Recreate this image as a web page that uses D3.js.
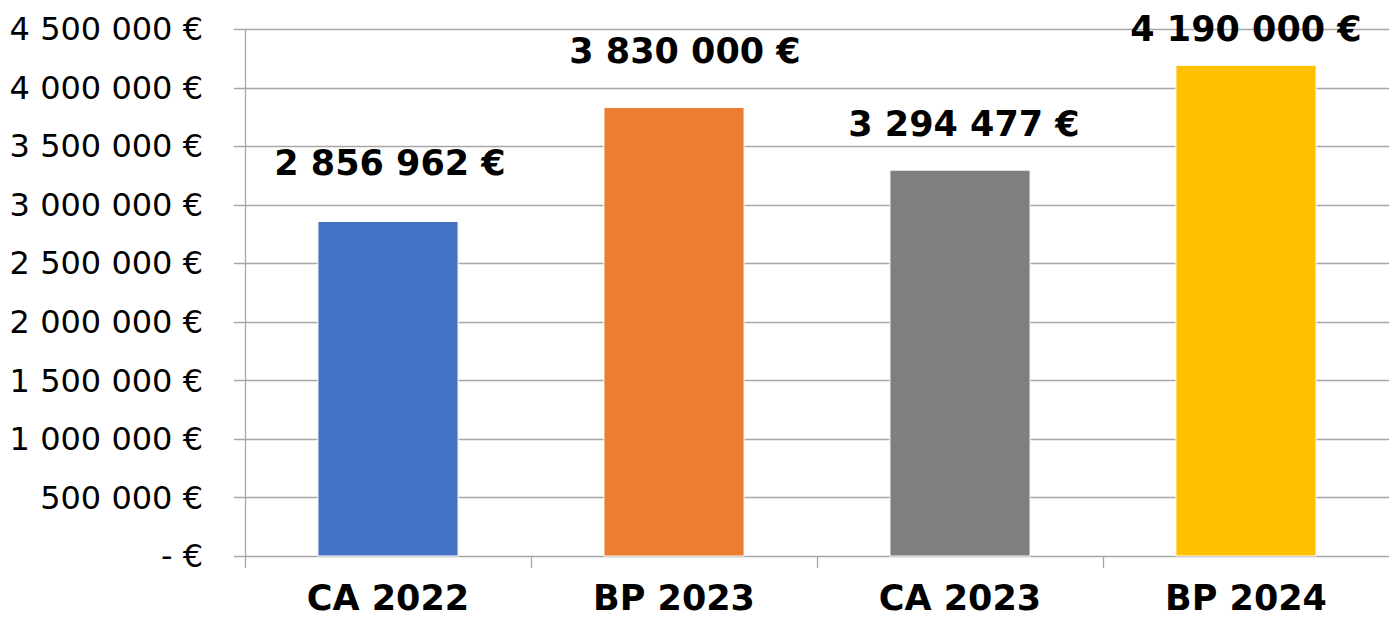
<!DOCTYPE html>
<html><head><meta charset="utf-8">
<script src="https://cdn.jsdelivr.net/npm/d3@7"></script>
<style>html,body{margin:0;padding:0;background:#fff;}svg{display:block;}</style>
</head><body>
<svg id="chart" width="1395" height="619"></svg>
<script>
const categories = ["CA 2022", "BP 2023", "CA 2023", "BP 2024"];
const values = [2856962, 3830000, 3294477, 4190000];
const colors = ["#4472C4", "#ED7D31", "#7F7F7F", "#FFC000"];
const yTicks = [0, 500000, 1000000, 1500000, 2000000, 2500000, 3000000, 3500000, 4000000, 4500000];
const labelDy = [-59, -57, -46, -37];
const labelDx = [2, 11, 4, 0];

const svg = d3.select("#chart");
const mLeft = 245, mRight = 1389, mTop = 29, mBottom = 556;
const x = d3.scaleBand().domain(categories).range([mLeft, mRight]).paddingInner(0.51).paddingOuter(0.255);
const y = d3.scaleLinear().domain([0, 4500000]).range([mBottom, mTop]);
const font = "'DejaVu Sans', Verdana, sans-serif";
const grid = "#a6a6a6";

const loc = d3.formatLocale({decimal: ",", thousands: " ", grouping: [3], currency: ["", " €"]});
const fmt = v => v === 0 ? "- €" : loc.format(",.0f")(v) + " €";

// gridlines
svg.append("g").selectAll("line").data(yTicks).join("line")
  .attr("x1", mLeft - 11).attr("x2", mRight)
  .attr("y1", d => Math.round(y(d)) + 0.5).attr("y2", d => Math.round(y(d)) + 0.5)
  .attr("stroke", grid).attr("stroke-width", 1.3);

// y axis line
svg.append("line").attr("x1", mLeft + 0.5).attr("x2", mLeft + 0.5)
  .attr("y1", mTop).attr("y2", mBottom + 12).attr("stroke", grid).attr("stroke-width", 1.3);

// category boundary ticks
const bounds = categories.slice(1).map(c => x(c) - x.step() * x.paddingInner() / 2);
svg.append("g").selectAll("line").data(bounds).join("line")
  .attr("x1", d => Math.round(d) + 0.5).attr("x2", d => Math.round(d) + 0.5)
  .attr("y1", mBottom).attr("y2", mBottom + 12).attr("stroke", grid).attr("stroke-width", 1.3);

// y tick labels
svg.append("g").selectAll("text").data(yTicks).join("text")
  .attr("x", 203).attr("y", d => y(d)).attr("dy", "0.35em")
  .attr("text-anchor", "end").attr("font-family", font).attr("font-size", 32)
  .attr("fill", "#000").text(fmt);

// bars
svg.append("g").selectAll("rect").data(values).join("rect")
  .attr("x", (d, i) => x(categories[i])).attr("width", x.bandwidth())
  .attr("y", d => y(d)).attr("height", d => mBottom - y(d))
  .attr("fill", (d, i) => colors[i]).attr("stroke", "#fff").attr("stroke-width", 1);

// data labels
svg.append("g").selectAll("text").data(values).join("text")
  .attr("x", (d, i) => x(categories[i]) + x.bandwidth() / 2 + labelDx[i])
  .attr("y", (d, i) => y(d) + labelDy[i]).attr("dy", "0.35em")
  .attr("text-anchor", "middle").attr("font-family", font).attr("font-weight", "bold")
  .attr("font-size", 35).attr("fill", "#000").text(fmt);

// category labels
svg.append("g").selectAll("text").data(categories).join("text")
  .attr("x", d => x(d) + x.bandwidth() / 2).attr("y", 610)
  .attr("text-anchor", "middle").attr("font-family", font).attr("font-weight", "bold")
  .attr("font-size", 35).attr("fill", "#000").text(d => d);
</script>
</body></html>
